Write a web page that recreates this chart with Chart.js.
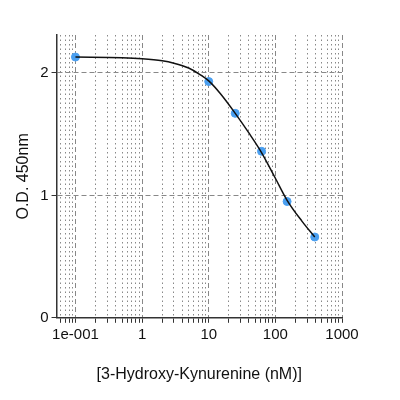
<!DOCTYPE html>
<html><head><script src="https://cdn.jsdelivr.net/npm/chart.js@4"></script>
<style>body{margin:0;background:#fff}#w{width:400px;height:400px}</style></head>
<body><div id="w"><canvas id="c"></canvas></div>
<script>
const concentrations=[0.1,10,25,62,150,390];
const odValues=[2.13,1.93,1.67,1.36,0.95,0.66];
const fitX=[0.1,0.5,1,2,3,5,7.5,10,15,25,40,62,100,150,250,390];
const fitY=[2.13,2.125,2.117,2.10,2.08,2.04,1.985,1.935,1.83,1.67,1.51,1.35,1.14,0.96,0.79,0.66];
const xTickLabels={0.1:'1e-001',1:'1',10:'10',100:'100',1000:'1000'};
const yTicks=[0,1,2];
const isMajor=v=>Math.abs(Math.log10(v)-Math.round(Math.log10(v)))<1e-6;
new Chart(document.getElementById('c'),{
type:'scatter',
data:{datasets:[
{data:fitX.map((x,i)=>({x,y:fitY[i]})),showLine:true,borderColor:'#111',borderWidth:1.5,pointRadius:0,cubicInterpolationMode:'monotone'},
{data:concentrations.map((x,i)=>({x,y:odValues[i]})),backgroundColor:'#4a9ff0',borderColor:'#4a9ff0',pointRadius:4}
]},
options:{responsive:true,maintainAspectRatio:false,animation:false,
layout:{padding:{left:10,right:58,top:35,bottom:12}},
plugins:{legend:{display:false},tooltip:{enabled:false}},
scales:{
x:{type:'logarithmic',min:0.052,max:1000,
afterBuildTicks:s=>{const t=[];for(let e=-2;e<=3;e++)for(let m=1;m<=9;m++){const v=m*Math.pow(10,e);if(v>=0.052&&v<=1000.001)t.push({value:v});}s.ticks=t;},
ticks:{autoSkip:false,maxRotation:0,color:'#111',font:{family:'Liberation Sans',size:15},callback:v=>{for(const k in xTickLabels)if(Math.abs(v-k)<1e-9*Math.max(1,k))return xTickLabels[k];return '';}},
grid:{color:'#888',tickColor:'#333',tickLength:5,lineWidth:1},
border:{color:'#333',width:1.5,dash:c=>c.tick&&isMajor(c.tick.value)?[5,3]:[1.5,3]},
title:{display:true,text:'[3-Hydroxy-Kynurenine (nM)]',font:{family:'Liberation Sans',size:16},color:'#111',padding:{top:18}}},
y:{min:0,max:2.31,afterBuildTicks:s=>{s.ticks=yTicks.map(v=>({value:v}));},
ticks:{color:'#111',font:{family:'Liberation Sans',size:15}},
grid:{color:'#888',tickColor:'#333',tickLength:5},
border:{color:'#333',width:1.5,dash:[5,3]},
title:{display:true,text:'O.D. 450nm',font:{family:'Liberation Sans',size:16},color:'#111'}}
}}});
</script></body></html>
